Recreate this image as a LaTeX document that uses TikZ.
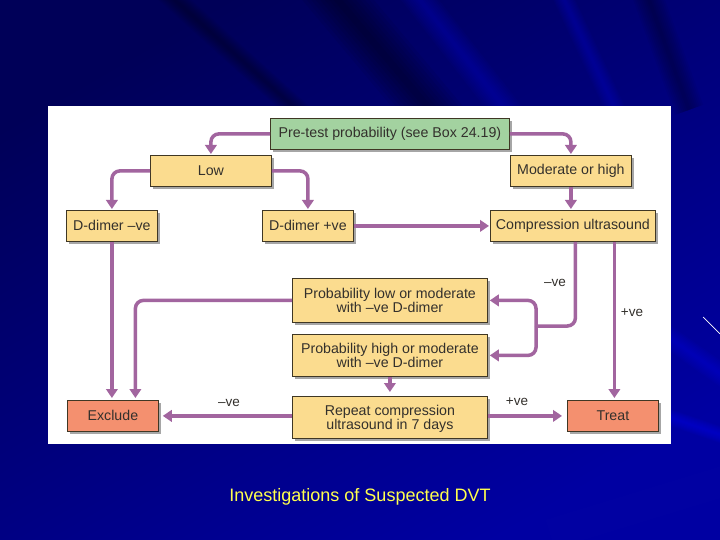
\documentclass[tikz,border=0pt]{standalone}
\usepackage{fontspec}
\setmainfont{Liberation Sans}
\usetikzlibrary{arrows.meta,shadows,positioning}
\definecolor{bgtop}{HTML}{000058}
\definecolor{bgmid}{HTML}{000088}
\definecolor{bgbot}{HTML}{0000A2}
\definecolor{glow}{HTML}{0000E6}
\definecolor{conn}{HTML}{A2659F}
\definecolor{amber}{HTML}{FBDC8F}
\definecolor{mint}{HTML}{A3D2A0}
\definecolor{salmon}{HTML}{F4906F}
\definecolor{ink}{HTML}{33302C}
\definecolor{caption}{HTML}{FFFF4D}
% colour, opacity per layer, centre x, centre y, angle, length, width
\newcommand{\softstreak}[7]{%
  \begin{scope}[shift={(#3,#4)},rotate=#5]
    \foreach \k in {1,...,8}{
      \fill[#1,opacity=#2] ({-(#6)/2},{-(#7)*\k/16}) rectangle ({(#6)/2},{(#7)*\k/16});
    }
  \end{scope}}
\tikzset{
  x=1pt,y=-1pt,
  box/.style={draw=black!75!amber,line width=0.8pt,fill=#1,text=ink,font=\fontsize{14.2}{14.5}\selectfont,
    align=center,inner sep=0pt,anchor=north west,
    drop shadow={shadow xshift=2.5pt,shadow yshift=-3pt,opacity=0.35,fill=black}},
  conn/.style={draw=conn,line width=3.5pt,rounded corners=8pt},
  tip/.style={-{Triangle[length=9pt,width=11.5pt]},shorten >=#1},
  tip/.default=1pt,
  lab/.style={text=ink,font=\fontsize{13.5}{14}\selectfont,inner sep=0pt},
}
\begin{document}
\begin{tikzpicture}
\useasboundingbox (0,0) rectangle (720,540);
% backdrop
\fill[shading=axis,top color=bgtop,middle color=bgmid,bottom color=bgbot,shading angle=30] (0,0) rectangle (720,540);
\begin{scope}
\clip (0,0) rectangle (720,540);
\softstreak{black}{0.055}{380}{50}{-50}{340}{55}
\softstreak{black}{0.045}{236}{55}{-42}{300}{22}
\softstreak{glow}{0.045}{463}{55}{-52}{300}{30}
\softstreak{glow}{0.045}{590}{55}{-65}{300}{20}
\softstreak{black}{0.04}{660}{30}{-70}{170}{30}
\softstreak{glow}{0.08}{695}{426}{-19}{120}{16}
\softstreak{glow}{0.06}{698}{358}{-35}{120}{22}
\softstreak{white}{0.004}{646}{505}{17}{200}{30}
\end{scope}
\coordinate (wa) at (703,317);
\coordinate (wb) at (720,334);
\draw[white,line width=0.7pt] (wa) -- (wb);
% panel
\fill[white] (48,106) rectangle (671,444);
% boxes
\node[box=mint,minimum width=239pt,minimum height=31pt] (pre) at (270,118) {Pre-test probability (see Box 24.19)};
\node[box=amber,minimum width=121pt,minimum height=31pt] (low) at (150,155) {Low};
\node[box=amber,minimum width=121pt,minimum height=31pt] (mod) at (510,155) {Moderate or high};
\node[box=amber,minimum width=91pt,minimum height=31pt] (dm) at (66,210) {D-dimer –ve};
\node[box=amber,minimum width=91pt,minimum height=31pt] (dp) at (262,210) {D-dimer +ve};
\node[box=amber,minimum width=165pt,minimum height=31pt] (comp) at (490,210) {Compression ultrasound};
\node[box=amber,minimum width=195pt,minimum height=44pt] (plow) at (292,278) {Probability low or moderate\\with –ve D-dimer};
\node[box=amber,minimum width=195pt,minimum height=42pt] (phigh) at (292,334) {Probability high or moderate\\with –ve D-dimer};
\node[box=amber,minimum width=195pt,minimum height=42pt] (rep) at (292,396) {\rule{0pt}{13pt}Repeat compression\\ultrasound in 7 days};
\node[box=salmon,minimum width=91pt,minimum height=31pt] (ex) at (67,400) {Exclude};
\node[box=salmon,minimum width=91pt,minimum height=31pt] (tr) at (567,400) {Treat};
% junction and offsets
\coordinate (j) at (536,326);
\coordinate (cm) at ([xshift=2.5pt]comp.south);
\coordinate (cp) at ([xshift=41.5pt]comp.south);
\coordinate (ex2) at ([xshift=22.5pt]ex.north);
% connectors
\draw[conn,tip] (pre.west) -| (low.north);
\draw[conn,tip] (pre.east) -| (mod.north);
\draw[conn,tip] (low.west) -| (dm.north);
\draw[conn,tip] (low.east) -| (dp.north);
\draw[conn,tip] (mod.south) -- (mod.south |- comp.north);
\draw[conn,tip] (dp.east) -- (comp.west);
\draw[conn] (cm) |- (j);
\draw[conn,tip=2pt] (j) |- (plow.east);
\draw[conn,tip=2pt] (j) |- (phigh.east);
\draw[conn,tip=2pt] (cp) -- (cp |- tr.north);
\draw[conn,tip=2pt] (dm.south) -- (dm.south |- ex.north);
\draw[conn,tip=2pt] (plow.west) -| (ex2);
\draw[conn,tip=4pt] (rep.west |- ex.east) -- (ex.east);
\draw[conn,tip=4pt] (phigh.south) -- (rep.north);
\draw[conn,tip=5pt] (rep.east |- tr.west) -- (tr.west);
% edge labels
\node[lab] (l1) at (555,283) {–ve};
\node[lab] (l2) at (632,313) {+ve};
\node[lab] (l3) at (229,403) {–ve};
\node[lab] (l4) at (517,402) {+ve};
% caption
\node[text=caption,font=\fontsize{18}{20}\selectfont,inner sep=0pt] (cap) at (360,497) {Investigations of Suspected DVT};
\end{tikzpicture}
\end{document}
